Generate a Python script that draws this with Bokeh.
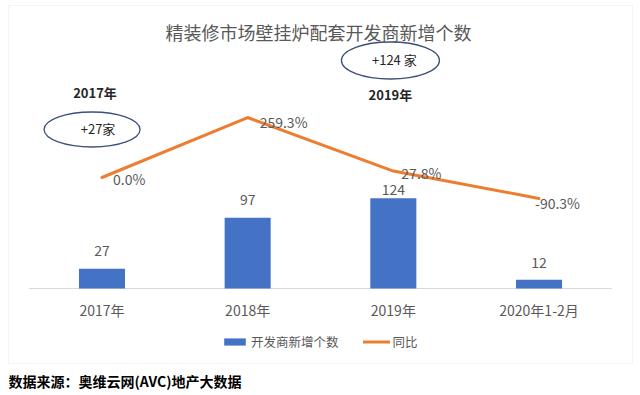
from bokeh.plotting import figure
from bokeh.models import (ColumnDataSource, Range1d, Legend, LegendItem, Label,
                          BoxAnnotation, FactorRange)
from bokeh.transform import dodge
from bokeh.core.properties import value
from bokeh.embed import file_html
from bokeh.resources import INLINE

# ---- data ----
categories = ["2017年", "2018年", "2019年", "2020年1-2月"]
new_developers = [27, 97, 124, 12]
yoy_pct = [0.0, 259.3, 27.8, -90.3]
yoy_labels = ["0.0%", "259.3%", "27.8%", "-90.3%"]
callout_years = ["2017年", "2019年"]
callout_texts = ["+27家", "+124 家"]

FONT = "Noto Sans CJK SC"
GRAY = "#595959"
BLUE = "#4472C4"
ORANGE = "#ED7D31"
DARK = "#262626"

p = figure(width=640, height=395,
           x_range=FactorRange(*categories, range_padding=0.1965,
                               range_padding_units="absolute"),
           y_range=Range1d(-147.0, 395.6),
           y_axis_location=None, title=None,
           output_backend="svg", toolbar_location=None,
           min_border=0)
p.extra_y_ranges = {"pct": Range1d(-942.1, 765.0)}
p.xgrid.visible = False
p.ygrid.visible = False
p.outline_line_color = None
p.background_fill_color = "white"
p.border_fill_color = "white"

# x axis drawn at the bar baseline
ax = p.xaxis[0]
ax.fixed_location = 0
ax.axis_line_color = None
ax.major_tick_line_color = None
ax.minor_tick_line_color = None
ax.major_label_text_font = FONT
ax.major_label_text_font_size = "14px"
ax.major_label_text_color = GRAY
ax.major_label_standoff = 6

base = ColumnDataSource(dict(x0=[categories[0]], x1=[categories[-1]], y=[0]))
p.segment(x0=dodge("x0", -0.5, range=p.x_range), x1=dodge("x1", 0.5, range=p.x_range),
          y0="y", y1="y", source=base, line_color="#D9D9D9", line_width=1)

src = ColumnDataSource(dict(
    cat=categories,
    val=new_developers,
    val_txt=[str(v) for v in new_developers],
    pct=yoy_pct,
    pct_txt=yoy_labels,
    bar_dy=[-18, -18, -9, -17],
    pct_dx=[11, 12, 8, -4],
    pct_dy=[1, 4, 2, 5],
))

bars = p.vbar(x="cat", top="val", width=0.316, source=src,
              fill_color=BLUE, line_color=None)
line = p.line(x="cat", y="pct", source=src, y_range_name="pct",
              line_color=ORANGE, line_width=3, line_cap="round", line_join="round")

p.text(x="cat", y="val", text="val_txt", source=src, y_offset="bar_dy",
       text_align="center", text_baseline="middle",
       text_font=value(FONT), text_font_size="14px", text_color=GRAY)
p.text(x="cat", y="pct", text="pct_txt", source=src, y_range_name="pct",
       x_offset="pct_dx", y_offset="pct_dy",
       text_align="left", text_baseline="middle",
       text_font=value(FONT), text_font_size="14px", text_color=GRAY)


# callouts (ellipse with count, year label)
def callout(year, text, y_ell, dx_ell, y_txt, dx_txt, y_year, dx_year, w, h):
    s = ColumnDataSource(dict(x=[year], ye=[y_ell], yt=[y_txt], yy=[y_year],
                              t=[text], yr=[year]))
    p.ellipse(x=dodge("x", dx_ell, range=p.x_range), y="ye", width=w, height=h,
              width_units="screen", height_units="screen", source=s,
              fill_alpha=0, line_color="#3A4F7A", line_width=1.3)
    p.text(x=dodge("x", dx_txt, range=p.x_range), y="yt", text="t", source=s,
           text_align="center", text_baseline="middle", text_font=value(FONT),
           text_font_size="13px", text_color=DARK)
    p.text(x=dodge("x", dx_year, range=p.x_range), y="yy", text="yr", source=s,
           text_align="center", text_baseline="middle", text_font=value(FONT),
           text_font_size="13px", text_font_style="bold", text_color=DARK)


callout(callout_years[0], callout_texts[0], 218.4, -0.068, 219.8, -0.027, 269.2, -0.048, 96, 35)
callout(callout_years[1], callout_texts[1], 313.2, -0.020, 315.2, 0.007, 266.5, -0.020, 98, 37)

# title and footer
p.add_layout(Label(x=318, y=31, x_units="canvas", y_units="canvas",
                   text="精装修市场壁挂炉配套开发商新增个数",
                   text_align="center", text_baseline="middle",
                   text_font=FONT, text_font_size="18px", text_color=GRAY))
p.add_layout(Label(x=8, y=380, x_units="canvas", y_units="canvas",
                   text="数据来源：奥维云网(AVC)地产大数据",
                   text_align="left", text_baseline="middle",
                   text_font=FONT, text_font_size="14px", text_font_style="bold",
                   text_color="black"))

legend = Legend(items=[LegendItem(label="开发商新增个数", renderers=[bars]),
                       LegendItem(label="同比", renderers=[line])],
                orientation="horizontal", location=(221, 44),
                label_text_font=FONT, label_text_font_size="12.5px",
                label_text_color=GRAY, glyph_width=27, glyph_height=9,
                label_standoff=3, spacing=24, margin=0, padding=0,
                background_fill_alpha=0, border_line_color=None)
p.add_layout(legend, "center")

border = BoxAnnotation(left=8, right=632, top=5, bottom=363,
                       left_units="canvas", right_units="canvas",
                       top_units="canvas", bottom_units="canvas",
                       fill_alpha=0, line_color="#D9D9D9", line_width=1)
p.add_layout(border)

open("out.html", "w").write(file_html(p, INLINE))
